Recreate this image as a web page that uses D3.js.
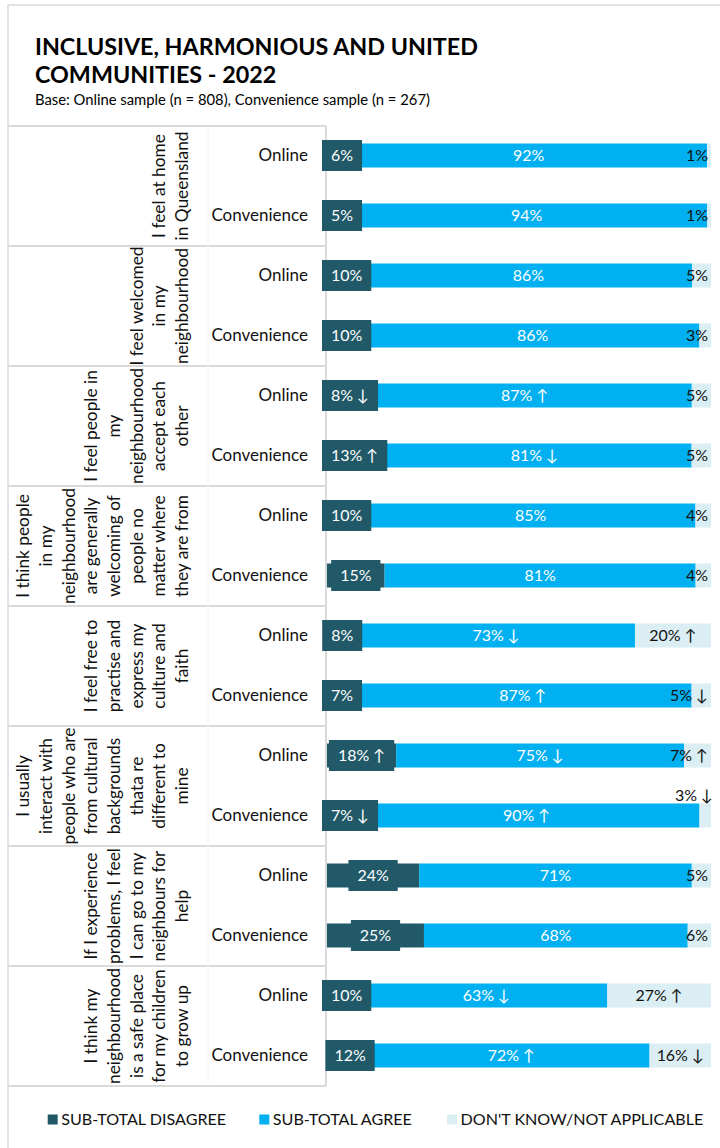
<!DOCTYPE html>
<html><head><meta charset="utf-8">
<script src="https://cdn.jsdelivr.net/npm/d3@7"></script>
<style>html,body{margin:0;padding:0;background:#fff;} svg{display:block;font-family:Lato,'Open Sans',sans-serif;}</style>
</head><body><svg id="c" width="720" height="1148"></svg>
<script>
// ---------- DATA ----------
const titleLines = ["INCLUSIVE, HARMONIOUS AND UNITED", "COMMUNITIES - 2022"];
const subtitle = "Base: Online sample (n = 808), Convenience sample (n = 267)";
const statements = [
  ["I feel at home", "in Queensland"],
  ["I feel welcomed", "in my", "neighbourhood"],
  ["I feel people in", "my", "neighbourhood", "accept each", "other"],
  ["I think people", "in my", "neighbourhood", "are generally", "welcoming of", "people no", "matter where", "they are from"],
  ["I feel free to", "practise and", "express my", "culture and", "faith"],
  ["I usually", "interact with", "people who are", "from cultural", "backgrounds", "thata re", "different to", "mine"],
  ["If I experience", "problems, I feel", "I can go to my", "neighbours for", "help"],
  ["I think my", "neighbourhood", "is a safe place", "for my children", "to grow up"]
];
const samples = ["Online", "Convenience"];
const seriesNames = ["SUB-TOTAL DISAGREE", "SUB-TOTAL AGREE", "DON'T KNOW/NOT APPLICABLE"];
const disagree = [6, 5, 10, 10, 8, 13, 10, 15, 8, 7, 18, 7, 24, 25, 10, 12];
const agree    = [92, 94, 86, 86, 87, 81, 85, 81, 73, 87, 75, 90, 71, 68, 63, 72];
const dontKnow = [1, 1, 5, 3, 5, 5, 4, 4, 20, 5, 7, 3, 5, 6, 27, 16];
const disagreeSig = ["", "", "", "", "↓", "↑", "", "", "", "", "↑", "↓", "", "", "", ""];
const agreeSig    = ["", "", "", "", "↑", "↓", "", "", "↓", "↑", "↓", "↑", "", "", "↓", "↑"];
const dontKnowSig = ["", "", "", "", "", "", "", "", "↑", "↓", "↑", "↓", "", "", "↑", "↓"];

// ---------- SETUP ----------
const svg = d3.select("#c");
const keys = ["disagree", "agree", "dontKnow"];
const colors = {disagree: "#215968", agree: "#00B0F0", dontKnow: "#DAEEF3"};
const sigs = {disagree: disagreeSig, agree: agreeSig, dontKnow: dontKnowSig};
const vals = {disagree, agree, dontKnow};

const rows = [];
statements.forEach((s, gi) => samples.forEach((smp, si) => {
  const i = gi * samples.length + si;
  rows.push({i, group: gi, sample: smp, disagree: disagree[i], agree: agree[i], dontKnow: dontKnow[i]});
}));

function fitSize(txt, weight, target) {
  const t = svg.append("text").attr("font-size", 100).attr("font-weight", weight).text(txt);
  const w = t.node().getComputedTextLength();
  t.remove();
  return 100 * target / w;
}
function textW(txt, size, weight) {
  const t = svg.append("text").attr("font-size", size).attr("font-weight", weight || 400).text(txt);
  const w = t.node().getComputedTextLength();
  t.remove();
  return w;
}

const x = d3.scaleLinear().domain([0, 1]).range([327, 711]);
const yRow = d3.scaleBand().domain(rows.map(d => d.i)).range([125.5, 1085.5]).paddingInner(0.6).paddingOuter(0.3);
const yGroup = d3.scaleBand().domain(statements.map((d, i) => i)).range([126, 1086]);

const stacked = d3.stack().keys(keys).offset(d3.stackOffsetExpand)(rows);

const gridColor = "#d9d9d9";

// ---------- FRAME ----------
svg.append("line").attr("x1", 8).attr("x2", 720).attr("y1", 5).attr("y2", 5).attr("stroke", gridColor).attr("stroke-width", 1.5);
svg.append("line").attr("x1", 8).attr("x2", 8).attr("y1", 5).attr("y2", 1148).attr("stroke", gridColor).attr("stroke-width", 1.5);

// ---------- TITLE ----------
const titleSize = fitSize(titleLines[0], 700, 443);
svg.selectAll("text.title").data(titleLines).join("text").attr("class", "title")
  .attr("x", 35).attr("y", (d, i) => 55 + i * 28)
  .attr("font-size", titleSize).attr("font-weight", 700).attr("fill", "#000").text(d => d);
svg.append("text").attr("x", 35).attr("y", 105)
  .attr("font-size", fitSize(subtitle, 400, 395)).attr("fill", "#000").text(subtitle);

// ---------- TABLE LINES ----------
const bounds = yGroup.domain().map(d => yGroup(d)).concat([yGroup.range()[1]]);
svg.selectAll("line.h").data(bounds).join("line").attr("class", "h")
  .attr("x1", 8).attr("x2", 326).attr("y1", d => d).attr("y2", d => d)
  .attr("stroke", gridColor).attr("stroke-width", 2);
svg.append("line").attr("x1", 326).attr("x2", 326).attr("y1", bounds[0]).attr("y2", bounds[bounds.length - 1])
  .attr("stroke", gridColor).attr("stroke-width", 2);
svg.append("line").attr("x1", 208).attr("x2", 208).attr("y1", bounds[0]).attr("y2", bounds[bounds.length - 1])
  .attr("stroke", "#f4f4f4").attr("stroke-width", 1);

// ---------- STATEMENT LABELS (rotated) ----------
const catSize = fitSize("neighbourhood", 400, 116);
const lh = 22.7;
statements.forEach((lines, gi) => {
  const cy = yGroup(gi) + yGroup.bandwidth() / 2;
  const n = lines.length;
  lines.forEach((ln, li) => {
    const cx = 182 - (n - 1 - li) * lh;
    svg.append("text").attr("transform", `translate(${cx},${cy}) rotate(-90)`)
      .attr("text-anchor", "middle").attr("dy", "0.35em")
      .attr("font-size", catSize).attr("fill", "#111").text(ln);
  });
});

// ---------- SAMPLE LABELS ----------
const smpSize = fitSize("Convenience", 400, 96.7);
svg.selectAll("text.smp").data(rows).join("text").attr("class", "smp")
  .attr("x", 308).attr("y", d => yRow(d.i) + yRow.bandwidth() / 2).attr("dy", "0.35em")
  .attr("text-anchor", "end").attr("font-size", smpSize).attr("fill", "#111").text(d => d.sample);

// ---------- BARS ----------
const bw = yRow.bandwidth();
svg.append("g").selectAll("g").data(stacked).join("g").attr("fill", s => colors[s.key])
  .selectAll("rect").data(s => s).join("rect")
  .attr("x", d => x(d[0])).attr("width", d => x(d[1]) - x(d[0]))
  .attr("y", d => yRow(d.data.i)).attr("height", bw);

// ---------- LABELS ----------
const lblSize = fitSize("92%", 400, 31.3);
stacked.forEach(s => {
  s.forEach(d => {
    const i = d.data.i;
    const txt = vals[s.key][i] + "%" + (sigs[s.key][i] ? " " + sigs[s.key][i] : "");
    const cy = yRow(i) + bw / 2;
    const x0 = x(d[0]), x1 = x(d[1]);
    let cx = (x0 + x1) / 2;
    const w = textW(txt, lblSize);
    if (s.key === "disagree") {
      const bwid = w + 18;
      let left = Math.max(322, cx - bwid / 2);
      svg.append("rect").attr("x", left).attr("y", cy - 15.5).attr("width", bwid).attr("height", 31)
        .attr("fill", colors.disagree);
      svg.append("text").attr("x", left + bwid / 2).attr("y", cy).attr("dy", "0.35em")
        .attr("text-anchor", "middle").attr("font-size", lblSize).attr("fill", "#fff").text(txt);
    } else if (s.key === "agree") {
      svg.append("text").attr("x", cx).attr("y", cy).attr("dy", "0.35em")
        .attr("text-anchor", "middle").attr("font-size", lblSize).attr("fill", "#fff").text(txt);
    } else {
      let ty = cy;
      let maxRight = 708;
      if (x1 - x0 < 14 && sigs[s.key][i]) { ty = cy - 20; maxRight = 713; }
      if (cx + w / 2 > maxRight) cx = maxRight - w / 2;
      svg.append("text").attr("x", cx).attr("y", ty).attr("dy", "0.35em")
        .attr("text-anchor", "middle").attr("font-size", lblSize).attr("fill", "#111").text(txt);
    }
  });
});

// ---------- LEGEND ----------
const legSize = fitSize(seriesNames[0], 400, 165);
const legX = [47.7, 259.3, 447];
keys.forEach((k, i) => {
  svg.append("rect").attr("x", legX[i]).attr("y", 1114.5).attr("width", 10).attr("height", 10).attr("fill", colors[k]);
  svg.append("text").attr("x", legX[i] + 13.5).attr("y", 1125).attr("font-size", legSize).attr("fill", "#111").text(seriesNames[i]);
});
</script></body></html>
